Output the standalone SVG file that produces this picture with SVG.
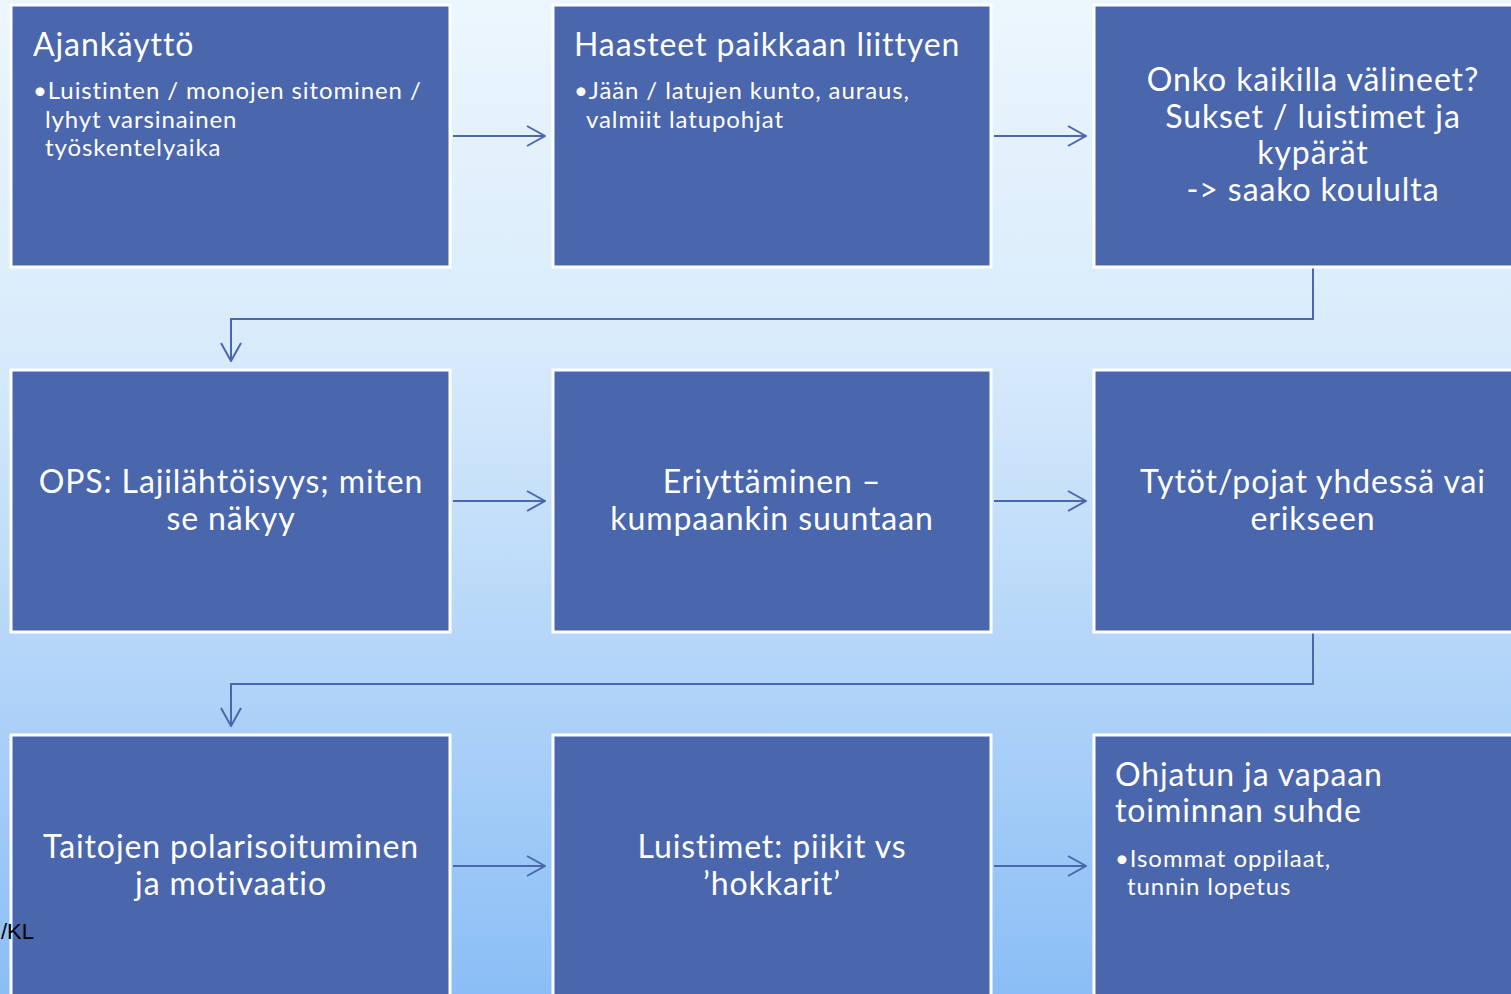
<svg xmlns="http://www.w3.org/2000/svg" width="1511" height="994" viewBox="0 0 1511 994">
<style>
.box{fill:#4a66ac;stroke:#ffffff;stroke-width:3}
.t{font-family:Lato,"Noto Sans",sans-serif;fill:#ffffff;letter-spacing:0.9px}
.h{font-size:32px}
.b{font-size:24px}
.c{text-anchor:middle}
.con{fill:none;stroke:#4a66ac;stroke-width:2}
</style>
<defs>
<linearGradient id="bg" x1="0" y1="0" x2="0" y2="1">
<stop offset="0" stop-color="#ecf6fd"/>
<stop offset="0.35" stop-color="#d8ebfb"/>
<stop offset="1" stop-color="#8bbef6"/>
</linearGradient>
<marker id="ah" viewBox="0 0 20 22" refX="19" refY="11" markerWidth="20" markerHeight="22" markerUnits="userSpaceOnUse" orient="auto">
<path d="M1,1 L19,11 L1,21" fill="none" stroke="#4a66ac" stroke-width="2"/>
</marker>
</defs>
<rect x="0" y="0" width="1511" height="994" fill="url(#bg)"/>
<g id="connectors">
<line class="con" x1="453" y1="136" x2="545" y2="136" marker-end="url(#ah)"/>
<line class="con" x1="994" y1="136" x2="1086" y2="136" marker-end="url(#ah)"/>
<polyline class="con" points="1313,268 1313,319 231,319 231,361" marker-end="url(#ah)"/>
<line class="con" x1="453" y1="501" x2="545" y2="501" marker-end="url(#ah)"/>
<line class="con" x1="994" y1="501" x2="1086" y2="501" marker-end="url(#ah)"/>
<polyline class="con" points="1313,633 1313,684 231,684 231,726" marker-end="url(#ah)"/>
<line class="con" x1="453" y1="866" x2="545" y2="866" marker-end="url(#ah)"/>
<line class="con" x1="994" y1="866" x2="1086" y2="866" marker-end="url(#ah)"/>
</g>
<g id="n1">
<rect class="box" x="11" y="5" width="439" height="262"/>
<text class="t h" x="33" y="56">Ajankäyttö</text>
<text class="t b" x="33" y="99">•Luistinten / monojen sitominen /</text>
<text class="t b" x="45" y="128">lyhyt varsinainen</text>
<text class="t b" x="45" y="156">työskentelyaika</text>
</g>
<g id="n2">
<rect class="box" x="553" y="5" width="438" height="262"/>
<text class="t h" x="574" y="56">Haasteet paikkaan liittyen</text>
<text class="t b" x="574" y="99">•Jään / latujen kunto, auraus,</text>
<text class="t b" x="586" y="128">valmiit latupohjat</text>
</g>
<g id="n3">
<rect class="box" x="1094" y="5" width="430" height="262"/>
<text class="t h c" x="1313" y="91">Onko kaikilla välineet?</text>
<text class="t h c" x="1313" y="128">Sukset / luistimet ja</text>
<text class="t h c" x="1313" y="164">kypärät</text>
<text class="t h c" x="1313" y="201">-&gt; saako koululta</text>
</g>
<g id="n4">
<rect class="box" x="11" y="370" width="439" height="262"/>
<text class="t h c" x="231" y="493">OPS: Lajilähtöisyys; miten</text>
<text class="t h c" x="231" y="530">se näkyy</text>
</g>
<g id="n5">
<rect class="box" x="553" y="370" width="438" height="262"/>
<text class="t h c" x="772" y="493">Eriyttäminen –</text>
<text class="t h c" x="772" y="530">kumpaankin suuntaan</text>
</g>
<g id="n6">
<rect class="box" x="1094" y="370" width="430" height="262"/>
<text class="t h c" x="1313" y="493">Tytöt/pojat yhdessä vai</text>
<text class="t h c" x="1313" y="530">erikseen</text>
</g>
<g id="n7">
<rect class="box" x="11" y="735" width="439" height="270"/>
<text class="t h c" x="231" y="858">Taitojen polarisoituminen</text>
<text class="t h c" x="231" y="895">ja motivaatio</text>
</g>
<g id="n8">
<rect class="box" x="553" y="735" width="438" height="270"/>
<text class="t h c" x="772" y="858">Luistimet: piikit vs</text>
<text class="t h c" x="772" y="895">’hokkarit’</text>
</g>
<g id="n9">
<rect class="box" x="1094" y="735" width="430" height="270"/>
<text class="t h" x="1115" y="786">Ohjatun ja vapaan</text>
<text class="t h" x="1115" y="822">toiminnan suhde</text>
<text class="t b" x="1115" y="867">•Isommat oppilaat,</text>
<text class="t b" x="1127" y="895">tunnin lopetus</text>
</g>
<text x="1" y="939" font-family="Liberation Sans,sans-serif" font-size="22" fill="#000000">/KL</text>
</svg>
